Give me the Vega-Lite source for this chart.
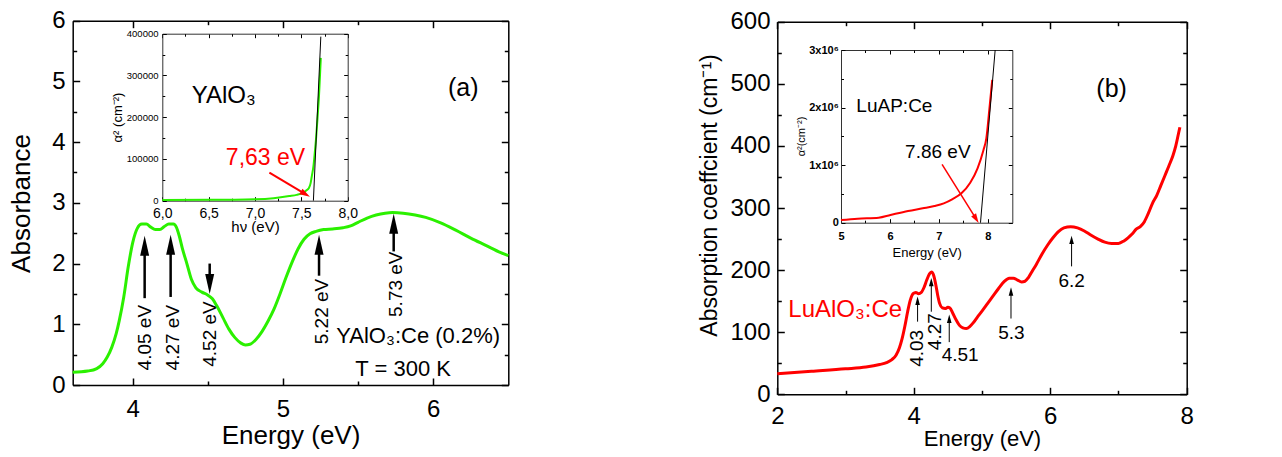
{
"$schema": "https://vega.github.io/schema/vega-lite/v6.json",
"width": 1282, "height": 457, "autosize": "none", "padding": 0, "background": "white",
"config": {
  "view": {"stroke": null},
  "font": "Liberation Sans",
  "text": {"font": "Liberation Sans"},
  "axis": {"grid": false, "domainColor": "black", "tickColor": "black", "labelColor": "black", "titleColor": "black",
           "labelFont": "Liberation Sans", "titleFont": "Liberation Sans", "titleFontWeight": "normal",
           "labelFlush": false, "labelOverlap": false, "labelBound": false, "domainWidth": 1.5, "tickWidth": 1.5}
},
"datasets": {
  "aCurve": [{"e":3.6,"v":0.21},{"e":3.7,"v":0.23},{"e":3.76,"v":0.27},{"e":3.8,"v":0.35},{"e":3.83,"v":0.46},{"e":3.86,"v":0.62},{"e":3.89,"v":0.85},{"e":3.91,"v":1.06},{"e":3.94,"v":1.45},{"e":3.97,"v":1.95},{"e":4.0,"v":2.35},{"e":4.03,"v":2.58},{"e":4.06,"v":2.65},{"e":4.09,"v":2.65},{"e":4.12,"v":2.6},{"e":4.15,"v":2.56},{"e":4.18,"v":2.56},{"e":4.21,"v":2.61},{"e":4.24,"v":2.65},{"e":4.27,"v":2.65},{"e":4.29,"v":2.6},{"e":4.31,"v":2.45},{"e":4.33,"v":2.25},{"e":4.36,"v":2.0},{"e":4.39,"v":1.74},{"e":4.42,"v":1.6},{"e":4.46,"v":1.53},{"e":4.5,"v":1.48},{"e":4.53,"v":1.42},{"e":4.56,"v":1.3},{"e":4.6,"v":1.11},{"e":4.64,"v":0.92},{"e":4.68,"v":0.78},{"e":4.72,"v":0.69},{"e":4.75,"v":0.66},{"e":4.78,"v":0.67},{"e":4.82,"v":0.75},{"e":4.86,"v":0.88},{"e":4.9,"v":1.05},{"e":4.94,"v":1.25},{"e":4.98,"v":1.5},{"e":5.02,"v":1.77},{"e":5.06,"v":2.02},{"e":5.1,"v":2.24},{"e":5.14,"v":2.4},{"e":5.18,"v":2.49},{"e":5.22,"v":2.53},{"e":5.27,"v":2.56},{"e":5.33,"v":2.57},{"e":5.4,"v":2.59},{"e":5.45,"v":2.62},{"e":5.5,"v":2.68},{"e":5.56,"v":2.75},{"e":5.62,"v":2.8},{"e":5.68,"v":2.83},{"e":5.73,"v":2.84},{"e":5.8,"v":2.83},{"e":5.88,"v":2.8},{"e":5.95,"v":2.76},{"e":6.05,"v":2.67},{"e":6.15,"v":2.55},{"e":6.25,"v":2.42},{"e":6.35,"v":2.3},{"e":6.45,"v":2.18},{"e":6.5,"v":2.13}],
  "aArrows": [{"e":4.079,"y0":1.43,"y1":2.3,"h":2.295,"dir":"up"},{"e":4.252,"y0":1.45,"y1":2.31,"h":2.31,"dir":"up"},{"e":4.512,"y0":2.0,"y1":1.67,"h":1.665,"dir":"down"},{"e":5.24,"y0":1.8,"y1":2.31,"h":2.31,"dir":"up"},{"e":5.737,"y0":2.2,"y1":2.66,"h":2.655,"dir":"up"}],
  "aLabels": [{"e":4.082,"v":0.78,"t":"4.05 eV"},{"e":4.267,"v":0.78,"t":"4.27 eV"},{"e":4.517,"v":0.84,"t":"4.52 eV"},{"e":5.258,"v":1.21,"t":"5.22 eV"},{"e":5.755,"v":1.66,"t":"5.73 eV"}],
  "aTag": [{"e":6.2,"v":4.76,"t":"(a)"}],
  "aText": [{"e":5.9,"v":0.686,"t":"YAlO₃:Ce (0.2%)"},{"e":5.8,"v":0.148,"t":"T = 300 K"}],
  "iaCurve": [{"e":6.0,"v":1700},{"e":6.5,"v":2000},{"e":7.0,"v":3500},{"e":7.2,"v":6000},{"e":7.37,"v":11000},{"e":7.45,"v":14000},{"e":7.51,"v":18000},{"e":7.55,"v":24000},{"e":7.58,"v":30000},{"e":7.6,"v":42000},{"e":7.61,"v":55000},{"e":7.62,"v":68000},{"e":7.63,"v":82000},{"e":7.645,"v":115000},{"e":7.66,"v":153000},{"e":7.675,"v":200000},{"e":7.69,"v":250000},{"e":7.7,"v":295000},{"e":7.71,"v":342000}],
  "iaFit": [{"e1":7.63,"v1":0,"e2":7.71,"v2":393000}],
  "iaArrow": [{"e1":7.155,"v1":67000,"e2":7.544,"v2":15700}],
  "iaTitle": [{"e":6.317,"v":234700,"t":"YAlO₃"}],
  "iaGap": [{"e":7.113,"v":85500,"t":"7,63 eV"}],
  "bCurve": [{"e":2.0,"v":33},{"e":2.5,"v":37},{"e":3.0,"v":41},{"e":3.3,"v":44},{"e":3.5,"v":48},{"e":3.6,"v":51},{"e":3.68,"v":56},{"e":3.74,"v":63},{"e":3.79,"v":75},{"e":3.83,"v":90},{"e":3.87,"v":110},{"e":3.91,"v":133},{"e":3.95,"v":152},{"e":3.99,"v":162},{"e":4.03,"v":164},{"e":4.07,"v":162},{"e":4.11,"v":164},{"e":4.15,"v":172},{"e":4.19,"v":184},{"e":4.23,"v":194},{"e":4.26,"v":197},{"e":4.29,"v":192},{"e":4.32,"v":178},{"e":4.35,"v":160},{"e":4.38,"v":146},{"e":4.42,"v":139},{"e":4.46,"v":138},{"e":4.5,"v":140},{"e":4.53,"v":139},{"e":4.57,"v":131},{"e":4.62,"v":120},{"e":4.67,"v":111},{"e":4.72,"v":107},{"e":4.77,"v":106},{"e":4.82,"v":109},{"e":4.87,"v":115},{"e":4.93,"v":124},{"e":5.0,"v":134},{"e":5.08,"v":146},{"e":5.16,"v":158},{"e":5.24,"v":170},{"e":5.32,"v":181},{"e":5.4,"v":187},{"e":5.46,"v":187},{"e":5.52,"v":184},{"e":5.58,"v":181},{"e":5.63,"v":182},{"e":5.68,"v":188},{"e":5.74,"v":199},{"e":5.8,"v":210},{"e":5.88,"v":226},{"e":5.96,"v":240},{"e":6.04,"v":252},{"e":6.12,"v":262},{"e":6.2,"v":268},{"e":6.3,"v":270},{"e":6.4,"v":268},{"e":6.5,"v":263},{"e":6.6,"v":256},{"e":6.7,"v":250},{"e":6.8,"v":245},{"e":6.9,"v":243},{"e":7.0,"v":243},{"e":7.08,"v":247},{"e":7.14,"v":252},{"e":7.2,"v":258},{"e":7.26,"v":266},{"e":7.32,"v":270},{"e":7.38,"v":278},{"e":7.44,"v":292},{"e":7.5,"v":308},{"e":7.56,"v":320},{"e":7.62,"v":336},{"e":7.68,"v":352},{"e":7.74,"v":368},{"e":7.8,"v":385},{"e":7.84,"v":400},{"e":7.88,"v":420},{"e":7.9,"v":430}],
  "bArrows": [{"e":4.056,"y0":117,"y1":151,"h":150.6},{"e":4.257,"y0":133,"y1":181,"h":180.6},{"e":4.52,"y0":84,"y1":122,"h":121.6},{"e":5.425,"y0":122,"y1":166,"h":165.6},{"e":6.313,"y0":206,"y1":249,"h":248.6}],
  "bRotLabels": [{"e":4.042,"v":74,"t":"4.03"},{"e":4.31,"v":100.8,"t":"4.27"}],
  "bLabels": [{"e":4.68,"v":53.6,"t":"4.51"},{"e":5.43,"v":89,"t":"5.3"},{"e":6.313,"v":173,"t":"6.2"}],
  "bName": [{"e":2.161,"v":125,"t":"LuAlO₃:Ce"}],
  "bTag": [{"e":6.9,"v":479,"t":"(b)"}],
  "ibCurve": [{"e":5.0,"v":45000},{"e":5.34,"v":70000},{"e":5.77,"v":87000},{"e":6.01,"v":134000},{"e":6.37,"v":203000},{"e":6.67,"v":250000},{"e":6.91,"v":290000},{"e":7.1,"v":336000},{"e":7.28,"v":410000},{"e":7.46,"v":510000},{"e":7.64,"v":695000},{"e":7.79,"v":945000},{"e":7.91,"v":1260000},{"e":7.97,"v":1470000},{"e":8.03,"v":1960000},{"e":8.09,"v":2480000}],
  "ibFit": [{"e1":7.85,"v1":0,"e2":8.15,"v2":3000000}],
  "ibArrow": [{"e1":7.065,"v1":1014000,"e2":7.761,"v2":66000}],
  "ibText": [{"e":5.314,"v":1928000,"t":"LuAP:Ce"},{"e":6.31,"v":1119000,"t":"7.86 eV"}]
},
"layer": [
{
 "resolve": {"axis": {"x": "independent", "y": "independent"}},
 "layer": [
  {"data": {"name": "aCurve"},
   "mark": {"type": "line", "color": "#2bf000", "strokeWidth": 3, "interpolate": "monotone"},
   "encoding": {
     "x": {"field": "e", "type": "quantitative", "scale": {"domain": [3.6, 6.5], "range": [72.7, 508.3], "nice": false, "zero": false},
           "axis": {"orient": "bottom", "offset": -72, "values": [4, 5, 6], "tickSize": -7, "labelPadding": 19, "labelFontSize": 24,
                    "title": "Energy (eV)", "titleFontSize": 26, "titleX": 290.5, "titleY": 58, "titleAlign": "center", "titleBaseline": "alphabetic"}},
     "y": {"field": "v", "type": "quantitative", "scale": {"domain": [0, 6], "range": [385, 20.7], "nice": false, "zero": false},
           "axis": {"orient": "left", "offset": -72.7, "values": [0, 1, 2, 3, 4, 5, 6], "tickSize": -7, "labelPadding": 14.7, "labelFontSize": 24,
                    "title": "Absorbance", "titleFontSize": 26, "titleX": -43, "titleY": 203, "titleAlign": "center", "titleBaseline": "alphabetic", "titleAngle": 270}}
   }},
  {"data": {"name": "aArrows"},
   "mark": {"type": "rule", "color": "black", "strokeWidth": 2.5},
   "encoding": {
     "x": {"field": "e", "type": "quantitative", "scale": {"domain": [3.6, 6.5], "range": [72.7, 508.3], "nice": false, "zero": false},
           "axis": {"orient": "bottom", "offset": -72, "values": [4.5, 5.5], "tickSize": -4, "labels": false, "domain": false, "title": null}},
     "y": {"field": "y0", "type": "quantitative", "scale": {"domain": [0, 6], "range": [385, 20.7], "nice": false, "zero": false},
           "axis": {"orient": "left", "offset": -72.7, "values": [0.5, 1.5, 2.5, 3.5, 4.5, 5.5], "tickSize": -4, "labels": false, "domain": false, "title": null}},
     "y2": {"field": "y1"}
   }},
  {"data": {"name": "aArrows"},
   "mark": {"type": "point", "filled": true, "color": "black", "opacity": 1, "size": 400, "strokeWidth": 0},
   "encoding": {
     "x": {"field": "e", "type": "quantitative", "scale": {"domain": [3.6, 6.5], "range": [72.7, 508.3], "nice": false, "zero": false},
           "axis": {"orient": "top", "offset": -20.7, "values": [4, 5, 6], "tickSize": -7, "labels": false, "title": null}},
     "y": {"field": "h", "type": "quantitative", "scale": {"domain": [0, 6], "range": [385, 20.7], "nice": false, "zero": false},
           "axis": {"orient": "right", "offset": -773.7, "values": [0, 1, 2, 3, 4, 5, 6], "tickSize": -7, "labels": false, "title": null}},
     "shape": {"field": "dir", "type": "nominal", "legend": null,
               "scale": {"domain": ["up", "down"], "range": ["M0,-1L0.45,1L-0.45,1Z", "M0,1L0.45,-1L-0.45,-1Z"]}}
   }},
  {"data": {"name": "aLabels"},
   "mark": {"type": "text", "angle": 270, "align": "center", "baseline": "middle", "fontSize": 19, "color": "black"},
   "encoding": {
     "x": {"field": "e", "type": "quantitative", "scale": {"domain": [3.6, 6.5], "range": [72.7, 508.3], "nice": false, "zero": false},
           "axis": {"orient": "top", "offset": -20.7, "values": [4.5, 5.5], "tickSize": -4, "labels": false, "domain": false, "title": null}},
     "y": {"field": "v", "type": "quantitative", "scale": {"domain": [0, 6], "range": [385, 20.7], "nice": false, "zero": false},
           "axis": {"orient": "right", "offset": -773.7, "values": [0.5, 1.5, 2.5, 3.5, 4.5, 5.5], "tickSize": -4, "labels": false, "domain": false, "title": null}},
     "text": {"field": "t"}
   }},
  {"data": {"name": "aText"},
   "mark": {"type": "text", "align": "center", "baseline": "alphabetic", "fontSize": 22, "color": "black"},
   "encoding": {
     "x": {"field": "e", "type": "quantitative", "scale": {"domain": [3.6, 6.5], "range": [72.7, 508.3], "nice": false, "zero": false}, "axis": null},
     "y": {"field": "v", "type": "quantitative", "scale": {"domain": [0, 6], "range": [385, 20.7], "nice": false, "zero": false}, "axis": null},
     "text": {"field": "t"}
   }},
  {"data": {"name": "aTag"},
   "mark": {"type": "text", "align": "center", "baseline": "alphabetic", "fontSize": 25, "color": "black"},
   "encoding": {
     "x": {"field": "e", "type": "quantitative", "scale": {"domain": [3.6, 6.5], "range": [72.7, 508.3], "nice": false, "zero": false}, "axis": null},
     "y": {"field": "v", "type": "quantitative", "scale": {"domain": [0, 6], "range": [385, 20.7], "nice": false, "zero": false}, "axis": null},
     "text": {"field": "t"}
   }}
 ]
},
{
 "resolve": {"axis": {"x": "independent", "y": "independent"}},
 "layer": [
  {"data": {"name": "iaCurve"},
   "mark": {"type": "line", "color": "#2bf000", "strokeWidth": 2, "interpolate": "monotone"},
   "encoding": {
     "x": {"field": "e", "type": "quantitative", "scale": {"domain": [6, 8], "range": [162.3, 347.7], "nice": false, "zero": false},
           "axis": {"orient": "bottom", "offset": -256.3, "values": [6, 6.5, 7, 7.5, 8], "tickSize": -4, "labelPadding": 9.5, "labelFontSize": 14,
                    "labelExpr": "replace(format(datum.value, '.1f'), '.', ',')", "domainWidth": 1, "tickWidth": 1, "domainColor": "#333",
                    "title": "hν (eV)", "titleFontSize": 15, "titleX": 255, "titleY": 31, "titleAlign": "center", "titleBaseline": "alphabetic"}},
     "y": {"field": "v", "type": "quantitative", "scale": {"domain": [0, 400000], "range": [200.7, 33.7], "nice": false, "zero": false},
           "axis": {"orient": "left", "offset": -162.3, "values": [0, 100000, 200000, 300000, 400000], "format": "d", "tickSize": -4, "labelPadding": 8.3, "labelFontSize": 9.5,
                    "domainWidth": 1, "tickWidth": 1, "domainColor": "#333",
                    "title": "α² (cm⁻²)", "titleFontSize": 13, "titleX": -41, "titleY": 117, "titleAlign": "center", "titleBaseline": "alphabetic", "titleAngle": 270}}
   }},
  {"data": {"name": "iaFit"},
   "mark": {"type": "rule", "color": "black", "strokeWidth": 1},
   "encoding": {
     "x": {"field": "e1", "type": "quantitative", "scale": {"domain": [6, 8], "range": [162.3, 347.7], "nice": false, "zero": false},
           "axis": {"orient": "bottom", "offset": -256.3, "values": [6.25, 6.75, 7.25, 7.75], "tickSize": -2.5, "tickWidth": 1, "labels": false, "domain": false, "title": null}},
     "y": {"field": "v1", "type": "quantitative", "scale": {"domain": [0, 400000], "range": [200.7, 33.7], "nice": false, "zero": false},
           "axis": {"orient": "left", "offset": -162.3, "values": [50000, 150000, 250000, 350000], "tickSize": -2.5, "tickWidth": 1, "labels": false, "domain": false, "title": null}},
     "x2": {"field": "e2"}, "y2": {"field": "v2"}
   }},
  {"data": {"name": "iaArrow"},
   "mark": {"type": "rule", "color": "#ff0000", "strokeWidth": 2},
   "encoding": {
     "x": {"field": "e1", "type": "quantitative", "scale": {"domain": [6, 8], "range": [162.3, 347.7], "nice": false, "zero": false},
           "axis": {"orient": "top", "offset": -33.7, "values": [6, 6.5, 7, 7.5, 8], "tickSize": -4, "tickWidth": 1, "domainWidth": 1, "domainColor": "#333", "labels": false, "title": null}},
     "y": {"field": "v1", "type": "quantitative", "scale": {"domain": [0, 400000], "range": [200.7, 33.7], "nice": false, "zero": false},
           "axis": {"orient": "right", "offset": -934.3, "values": [0, 100000, 200000, 300000, 400000], "tickSize": -4, "tickWidth": 1, "domainWidth": 1, "domainColor": "#333", "labels": false, "title": null}},
     "x2": {"field": "e2"}, "y2": {"field": "v2"}
   }},
  {"data": {"name": "iaArrow"},
   "mark": {"type": "point", "filled": true, "color": "#ff0000", "opacity": 1, "size": 110, "strokeWidth": 0, "angle": 121, "shape": "M0,-1L0.6,1L-0.6,1Z"},
   "encoding": {
     "x": {"field": "e2", "type": "quantitative", "scale": {"domain": [6, 8], "range": [162.3, 347.7], "nice": false, "zero": false},
           "axis": {"orient": "top", "offset": -33.7, "values": [6.25, 6.75, 7.25, 7.75], "tickSize": -2.5, "tickWidth": 1, "labels": false, "domain": false, "title": null}},
     "y": {"field": "v2", "type": "quantitative", "scale": {"domain": [0, 400000], "range": [200.7, 33.7], "nice": false, "zero": false},
           "axis": {"orient": "right", "offset": -934.3, "values": [50000, 150000, 250000, 350000], "tickSize": -2.5, "tickWidth": 1, "labels": false, "domain": false, "title": null}}
   }},
  {"data": {"name": "iaTitle"},
   "mark": {"type": "text", "align": "left", "baseline": "alphabetic", "fontSize": 24, "color": "black"},
   "encoding": {
     "x": {"field": "e", "type": "quantitative", "scale": {"domain": [6, 8], "range": [162.3, 347.7], "nice": false, "zero": false}, "axis": null},
     "y": {"field": "v", "type": "quantitative", "scale": {"domain": [0, 400000], "range": [200.7, 33.7], "nice": false, "zero": false}, "axis": null},
     "text": {"field": "t"}
   }},
  {"data": {"name": "iaGap"},
   "mark": {"type": "text", "align": "center", "baseline": "alphabetic", "fontSize": 23, "color": "#ff0000"},
   "encoding": {
     "x": {"field": "e", "type": "quantitative", "scale": {"domain": [6, 8], "range": [162.3, 347.7], "nice": false, "zero": false}, "axis": null},
     "y": {"field": "v", "type": "quantitative", "scale": {"domain": [0, 400000], "range": [200.7, 33.7], "nice": false, "zero": false}, "axis": null},
     "text": {"field": "t"}
   }}
 ]
},
{
 "resolve": {"axis": {"x": "independent", "y": "independent"}},
 "layer": [
  {"data": {"name": "bCurve"},
   "mark": {"type": "line", "color": "#ff0000", "strokeWidth": 3, "interpolate": "monotone"},
   "encoding": {
     "x": {"field": "e", "type": "quantitative", "scale": {"domain": [2, 8], "range": [777.3, 1186.7], "nice": false, "zero": false},
           "axis": {"orient": "bottom", "offset": -62.7, "values": [2, 4, 6, 8], "tickSize": -7, "labelPadding": 17, "labelFontSize": 24,
                    "title": "Energy (eV)", "titleFontSize": 22, "titleX": 982, "titleY": 51.5, "titleAlign": "center", "titleBaseline": "alphabetic"}},
     "y": {"field": "v", "type": "quantitative", "scale": {"domain": [0, 600], "range": [394.3, 21.7], "nice": false, "zero": false},
           "axis": {"orient": "left", "offset": -777.3, "values": [0, 100, 200, 300, 400, 500, 600], "tickSize": -7, "labelPadding": 14.3, "labelFontSize": 24,
                    "title": "Absorption coeffcient (cm⁻¹)", "titleFontSize": 23, "titleX": -61.3, "titleY": 195, "titleAlign": "center", "titleBaseline": "alphabetic", "titleAngle": 270}}
   }},
  {"data": {"name": "bArrows"},
   "mark": {"type": "rule", "color": "black", "strokeWidth": 1},
   "encoding": {
     "x": {"field": "e", "type": "quantitative", "scale": {"domain": [2, 8], "range": [777.3, 1186.7], "nice": false, "zero": false},
           "axis": {"orient": "bottom", "offset": -62.7, "values": [3, 5, 7], "tickSize": -4, "labels": false, "domain": false, "title": null}},
     "y": {"field": "y0", "type": "quantitative", "scale": {"domain": [0, 600], "range": [394.3, 21.7], "nice": false, "zero": false},
           "axis": {"orient": "left", "offset": -777.3, "values": [50, 150, 250, 350, 450, 550], "tickSize": -4, "labels": false, "domain": false, "title": null}},
     "y2": {"field": "y1"}
   }},
  {"data": {"name": "bArrows"},
   "mark": {"type": "point", "filled": true, "color": "black", "opacity": 1, "size": 70, "strokeWidth": 0, "shape": "M0,-1L0.55,1L-0.55,1Z"},
   "encoding": {
     "x": {"field": "e", "type": "quantitative", "scale": {"domain": [2, 8], "range": [777.3, 1186.7], "nice": false, "zero": false},
           "axis": {"orient": "top", "offset": -21.7, "values": [2, 4, 6, 8], "tickSize": -7, "labels": false, "title": null}},
     "y": {"field": "h", "type": "quantitative", "scale": {"domain": [0, 600], "range": [394.3, 21.7], "nice": false, "zero": false},
           "axis": {"orient": "right", "offset": -95.3, "values": [0, 100, 200, 300, 400, 500, 600], "tickSize": -7, "labels": false, "title": null}}
   }},
  {"data": {"name": "bRotLabels"},
   "mark": {"type": "text", "angle": 270, "align": "center", "baseline": "middle", "fontSize": 19, "color": "black"},
   "encoding": {
     "x": {"field": "e", "type": "quantitative", "scale": {"domain": [2, 8], "range": [777.3, 1186.7], "nice": false, "zero": false},
           "axis": {"orient": "top", "offset": -21.7, "values": [3, 5, 7], "tickSize": -4, "labels": false, "domain": false, "title": null}},
     "y": {"field": "v", "type": "quantitative", "scale": {"domain": [0, 600], "range": [394.3, 21.7], "nice": false, "zero": false},
           "axis": {"orient": "right", "offset": -95.3, "values": [50, 150, 250, 350, 450, 550], "tickSize": -4, "labels": false, "domain": false, "title": null}},
     "text": {"field": "t"}
   }},
  {"data": {"name": "bLabels"},
   "mark": {"type": "text", "align": "center", "baseline": "alphabetic", "fontSize": 19, "color": "black"},
   "encoding": {
     "x": {"field": "e", "type": "quantitative", "scale": {"domain": [2, 8], "range": [777.3, 1186.7], "nice": false, "zero": false}, "axis": null},
     "y": {"field": "v", "type": "quantitative", "scale": {"domain": [0, 600], "range": [394.3, 21.7], "nice": false, "zero": false}, "axis": null},
     "text": {"field": "t"}
   }},
  {"data": {"name": "bName"},
   "mark": {"type": "text", "align": "left", "baseline": "alphabetic", "fontSize": 24, "color": "#ff0000"},
   "encoding": {
     "x": {"field": "e", "type": "quantitative", "scale": {"domain": [2, 8], "range": [777.3, 1186.7], "nice": false, "zero": false}, "axis": null},
     "y": {"field": "v", "type": "quantitative", "scale": {"domain": [0, 600], "range": [394.3, 21.7], "nice": false, "zero": false}, "axis": null},
     "text": {"field": "t"}
   }},
  {"data": {"name": "bTag"},
   "mark": {"type": "text", "align": "center", "baseline": "alphabetic", "fontSize": 25, "color": "black"},
   "encoding": {
     "x": {"field": "e", "type": "quantitative", "scale": {"domain": [2, 8], "range": [777.3, 1186.7], "nice": false, "zero": false}, "axis": null},
     "y": {"field": "v", "type": "quantitative", "scale": {"domain": [0, 600], "range": [394.3, 21.7], "nice": false, "zero": false}, "axis": null},
     "text": {"field": "t"}
   }}
 ]
},
{
 "resolve": {"axis": {"x": "independent", "y": "independent"}},
 "layer": [
  {"data": {"name": "ibCurve"},
   "mark": {"type": "line", "color": "#ff0000", "strokeWidth": 2, "interpolate": "monotone"},
   "encoding": {
     "x": {"field": "e", "type": "quantitative", "scale": {"domain": [5, 8.5], "range": [841, 1012.3], "nice": false, "zero": false},
           "axis": {"orient": "bottom", "offset": -234.3, "values": [5, 6, 7, 8], "tickSize": -4, "labelPadding": 12, "labelFontSize": 11, "labelFontWeight": "bold",
                    "domainWidth": 1, "tickWidth": 1, "domainColor": "#333",
                    "title": "Energy (eV)", "titleFontSize": 13, "titleX": 926.7, "titleY": 33.3, "titleAlign": "center", "titleBaseline": "alphabetic"}},
     "y": {"field": "v", "type": "quantitative", "scale": {"domain": [0, 3000000], "range": [222.7, 50], "nice": false, "zero": false},
           "axis": {"orient": "left", "offset": -841, "values": [0, 1000000, 2000000, 3000000], "tickSize": -4, "labelPadding": 6.7, "labelFontSize": 11, "labelFontWeight": "bold",
                    "labelExpr": "datum.value == 0 ? '0' : format(datum.value / 1000000, 'd') + 'x10⁶'",
                    "domainWidth": 1, "tickWidth": 1, "domainColor": "#333",
                    "title": "α²(cm⁻²)", "titleFontSize": 11, "titleX": -37, "titleY": 136, "titleAlign": "center", "titleBaseline": "alphabetic", "titleAngle": 270}}
   }},
  {"data": {"name": "ibFit"},
   "mark": {"type": "rule", "color": "black", "strokeWidth": 1},
   "encoding": {
     "x": {"field": "e1", "type": "quantitative", "scale": {"domain": [5, 8.5], "range": [841, 1012.3], "nice": false, "zero": false},
           "axis": {"orient": "bottom", "offset": -234.3, "values": [5.5, 6.5, 7.5], "tickSize": -2.5, "tickWidth": 1, "labels": false, "domain": false, "title": null}},
     "y": {"field": "v1", "type": "quantitative", "scale": {"domain": [0, 3000000], "range": [222.7, 50], "nice": false, "zero": false},
           "axis": {"orient": "left", "offset": -841, "values": [500000, 1500000, 2500000], "tickSize": -2.5, "tickWidth": 1, "labels": false, "domain": false, "title": null}},
     "x2": {"field": "e2"}, "y2": {"field": "v2"}
   }},
  {"data": {"name": "ibArrow"},
   "mark": {"type": "rule", "color": "#ff0000", "strokeWidth": 1.5},
   "encoding": {
     "x": {"field": "e1", "type": "quantitative", "scale": {"domain": [5, 8.5], "range": [841, 1012.3], "nice": false, "zero": false},
           "axis": {"orient": "top", "offset": -50, "values": [5, 6, 7, 8], "tickSize": -4, "tickWidth": 1, "domainWidth": 1, "domainColor": "#333", "labels": false, "title": null}},
     "y": {"field": "v1", "type": "quantitative", "scale": {"domain": [0, 3000000], "range": [222.7, 50], "nice": false, "zero": false},
           "axis": {"orient": "right", "offset": -269.7, "values": [0, 1000000, 2000000, 3000000], "tickSize": -4, "tickWidth": 1, "domainWidth": 1, "domainColor": "#333", "labels": false, "title": null}},
     "x2": {"field": "e2"}, "y2": {"field": "v2"}
   }},
  {"data": {"name": "ibArrow"},
   "mark": {"type": "point", "filled": true, "color": "#ff0000", "opacity": 1, "size": 90, "strokeWidth": 0, "angle": 148, "shape": "M0,-1L0.6,1L-0.6,1Z"},
   "encoding": {
     "x": {"field": "e2", "type": "quantitative", "scale": {"domain": [5, 8.5], "range": [841, 1012.3], "nice": false, "zero": false},
           "axis": {"orient": "top", "offset": -50, "values": [5.5, 6.5, 7.5], "tickSize": -2.5, "tickWidth": 1, "labels": false, "domain": false, "title": null}},
     "y": {"field": "v2", "type": "quantitative", "scale": {"domain": [0, 3000000], "range": [222.7, 50], "nice": false, "zero": false},
           "axis": {"orient": "right", "offset": -269.7, "values": [500000, 1500000, 2500000], "tickSize": -2.5, "tickWidth": 1, "labels": false, "domain": false, "title": null}}
   }},
  {"data": {"name": "ibText"},
   "mark": {"type": "text", "align": "left", "baseline": "alphabetic", "fontSize": 19, "color": "black"},
   "encoding": {
     "x": {"field": "e", "type": "quantitative", "scale": {"domain": [5, 8.5], "range": [841, 1012.3], "nice": false, "zero": false}, "axis": null},
     "y": {"field": "v", "type": "quantitative", "scale": {"domain": [0, 3000000], "range": [222.7, 50], "nice": false, "zero": false}, "axis": null},
     "text": {"field": "t"}
   }}
 ]
}
],
"resolve": {"scale": {"x": "independent", "y": "independent"}, "axis": {"x": "independent", "y": "independent"}}
}
